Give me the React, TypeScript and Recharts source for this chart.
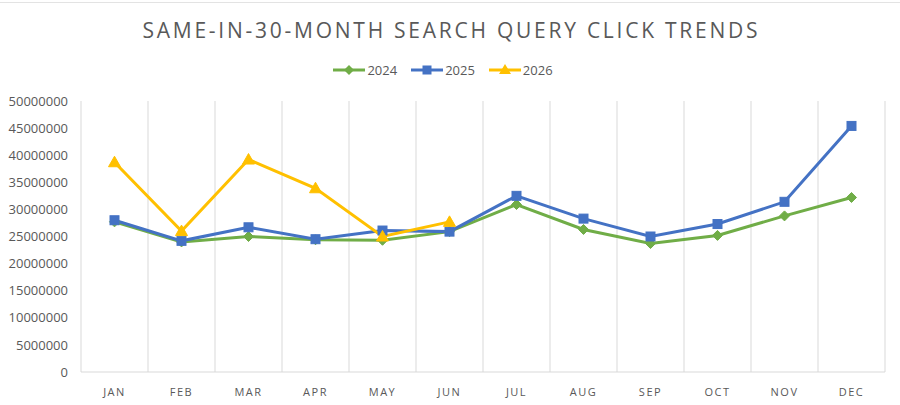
import React from "react";
import { LineChart, Line, XAxis, YAxis, CartesianGrid } from "recharts";

const months = ["JAN", "FEB", "MAR", "APR", "MAY", "JUN", "JUL", "AUG", "SEP", "OCT", "NOV", "DEC"];
const y2024 = [27700000, 24000000, 25000000, 24400000, 24300000, 25900000, 30900000, 26300000, 23700000, 25200000, 28800000, 32200000];
const y2025 = [28000000, 24200000, 26700000, 24500000, 26100000, 25900000, 32500000, 28300000, 25000000, 27300000, 31400000, 45400000];
const y2026 = [38700000, 26000000, 39200000, 33900000, 25000000, 27700000, null, null, null, null, null, null];
const yTicks = [0, 5000000, 10000000, 15000000, 20000000, 25000000, 30000000, 35000000, 40000000, 45000000, 50000000];

const data = months.map((m, i) => ({ month: m, s2024: y2024[i], s2025: y2025[i], s2026: y2026[i] }));

const GREEN = "#70AD47";
const BLUE = "#4472C4";
const YELLOW = "#FFC000";
const TEXT = "#595959";
const FONT = "'Open Sans', 'Noto Sans', sans-serif";

const Diamond = (props: any) => {
  const { cx, cy } = props;
  if (cx == null || cy == null || props.value == null) return null;
  const r = 5;
  return <path key={props.index} d={`M${cx},${cy - r}L${cx + r},${cy}L${cx},${cy + r}L${cx - r},${cy}Z`} fill={GREEN} stroke={GREEN} />;
};
const Square = (props: any) => {
  const { cx, cy } = props;
  if (cx == null || cy == null || props.value == null) return null;
  const r = 4.5;
  return <rect key={props.index} x={cx - r} y={cy - r} width={2 * r} height={2 * r} fill={BLUE} stroke={BLUE} />;
};
const Triangle = (props: any) => {
  const { cx, cy } = props;
  if (cx == null || cy == null || props.value == null) return null;
  const r = 6;
  return <path key={props.index} d={`M${cx},${cy - r}L${cx + r},${cy + r * 0.75}L${cx - r},${cy + r * 0.75}Z`} fill={YELLOW} stroke={YELLOW} />;
};

const legendItems = [
  { label: "2024", color: GREEN, shape: "diamond" },
  { label: "2025", color: BLUE, shape: "square" },
  { label: "2026", color: YELLOW, shape: "triangle" },
];

const LegendContent = () => (
  <div style={{ position: "absolute", top: 61, left: 0, width: 900, display: "flex", justifyContent: "center", alignItems: "center", fontFamily: FONT, fontSize: 13, color: TEXT }}>
    {legendItems.map((it) => (
      <div key={it.label} style={{ display: "flex", alignItems: "center", marginRight: 14 }}>
        <svg width={32} height={14} style={{ marginRight: 2 }}>
          <line x1={0} y1={7} x2={32} y2={7} stroke={it.color} strokeWidth={3} />
          {it.shape === "diamond" && <path d="M16,2L21,7L16,12L11,7Z" fill={it.color} />}
          {it.shape === "square" && <rect x={11.5} y={2.5} width={9} height={9} fill={it.color} />}
          {it.shape === "triangle" && <path d="M16,1L22,11L10,11Z" fill={it.color} />}
        </svg>
        <span>{it.label}</span>
      </div>
    ))}
  </div>
);

const gridGen = ({ offset }: any) => {
  const n = months.length;
  const arr: number[] = [];
  for (let i = 0; i <= n; i++) arr.push(offset.left + (i * offset.width) / n);
  return arr;
};

export default function App() {
  return (
    <div style={{ position: "absolute", left: 0, top: 0, width: 900, height: 405, background: "#fff" }}>
      <LineChart width={900} height={405} data={data} margin={{ top: 101, right: 15, bottom: 3, left: 0 }} style={{ position: "absolute", left: 0, top: 0 }}>
        <CartesianGrid horizontal={false} vertical stroke="#d9d9d9" verticalCoordinatesGenerator={gridGen} />
        <XAxis
          dataKey="month"
          scale="band"
          axisLine={{ stroke: "#d9d9d9" }}
          tickLine={false}
          tickMargin={10}
          height={30}
          tick={{ fill: TEXT, fontSize: 11, fontFamily: FONT, letterSpacing: 1.5 }}
          interval={0}
        />
        <YAxis
          width={81}
          domain={[0, 50000000]}
          ticks={yTicks}
          axisLine={false}
          tickLine={false}
          tickMargin={7}
          tick={{ fill: TEXT, fontSize: 13, fontFamily: FONT }}
          interval={0}
        />
        <Line dataKey="s2024" name="2024" stroke={GREEN} strokeWidth={3} dot={<Diamond />} activeDot={false} isAnimationActive={false} />
        <Line dataKey="s2025" name="2025" stroke={BLUE} strokeWidth={3} dot={<Square />} activeDot={false} isAnimationActive={false} />
        <Line dataKey="s2026" name="2026" stroke={YELLOW} strokeWidth={3} dot={<Triangle />} activeDot={false} isAnimationActive={false} />
      </LineChart>
      <svg width={900} height={50} style={{ position: "absolute", left: 0, top: 0 }}>
        <line x1={0} y1={2.5} x2={900} y2={2.5} stroke="#e3e3e3" strokeWidth={1} />
        <text x={450} y={38} textAnchor="middle" fontFamily={FONT} fontSize={21} fill={TEXT} textLength={615} lengthAdjust="spacing">
          SAME-IN-30-MONTH SEARCH QUERY CLICK TRENDS
        </text>
      </svg>
      <LegendContent />
    </div>
  );
}
